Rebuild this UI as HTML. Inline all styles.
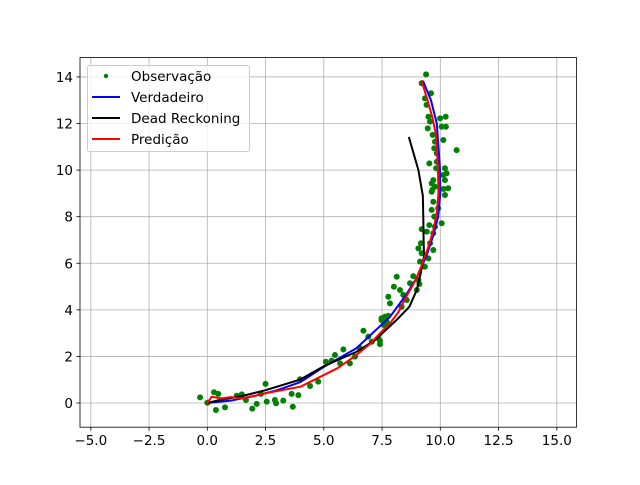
<!DOCTYPE html>
<html><head><meta charset="utf-8"><style>
body{margin:0;background:#fff}
svg{font-family:"DejaVu Sans","Liberation Sans",sans-serif}
</style></head><body>
<svg id="chart" width="640" height="480"></svg>
<script>
const xTicks=[-5,-2.5,0,2.5,5,7.5,10,12.5,15];
const xTickLabels=["−5.0","−2.5","0.0","2.5","5.0","7.5","10.0","12.5","15.0"];
const yTicks=[0,2,4,6,8,10,12,14];
const yTickLabels=["0","2","4","6","8","10","12","14"];
const obsX=[-0.31,0,0.29,0.47,0.37,0.76,1.26,1.48,1.66,1.93,2.12,2.3,2.5,2.55,2.9,2.95,3.26,3.62,3.67,3.91,
3.98,4.41,4.76,5.09,5.34,5.48,5.84,5.7,6.12,6.34,6.7,6.91,6.55,7.06,7.34,7.48,7.58,7.7,7.77,7.41,7.41,
7.48,7.63,7.84,7.77,8.34,8.56,8.41,8.99,8.27,8.01,9.1,8.7,9.06,8.13,8.84,9.34,9.13,9.49,9.2,9.7,9.06,9.56,9.17,9.7,9.42,9.2,9.77,9.53,10.06,9.74,9.63,9.91,9.7,10.2,9.63,
9.66,10.14,10.34,9.77,9.63,10.2,9.7,10.13,10.27,10.2,9.82,9.85,9.53,9.85,9.74,10.7,9.77,10.13,9.67,10.06,9.46,9.56,10.24,10.23,9.99,9.49,9.41,9.34,9.6,9.2,9.39];
const obsY=[0.24,0.01,0.46,0.39,-0.3,-0.19,0.31,0.37,0.13,-0.24,-0.04,0.39,0.82,0.06,0.13,-0.01,0.1,0.39,-0.16,0.34,
1.02,0.73,0.92,1.77,1.82,2.06,2.3,1.7,1.7,1.99,3.1,2.85,2.35,2.63,2.78,3.56,3.35,3.49,3.74,2.53,2.67,
3.64,3.71,4.28,4.56,4.13,4.42,4.64,4.85,4.85,4.99,5.11,5.14,5.28,5.42,5.45,5.85,6.07,6.21,6.43,6.57,6.64,6.86,6.86,7.29,7.36,7.46,7.57,7.64,7.72,8.0,8.29,8.36,8.64,8.93,9.07,
9.15,9.19,9.22,9.29,9.43,9.57,9.57,9.79,9.86,10.08,10.08,10.36,10.29,10.72,10.94,10.86,11.22,11.29,11.51,11.86,11.79,12.08,11.86,12.29,12.22,12.29,12.8,13.08,13.3,13.73,14.11];
const trueX=[0,1,2,3,4,5,6.4,7.84,8.5,9.0,9.4,9.7,9.91,10,9.99,9.92,9.85,9.6,9.27];
const trueY=[0,0.1,0.3,0.55,0.9,1.55,2.35,3.7,4.6,5.4,6.3,7.2,8.0,9,10,11,12,13,13.8];
const drX=[0,0.4,1.5,2.5,3.97,5,6.41,7.2,7.84,8.2,8.67,8.99,9.16,9.3,9.28,9.27,9.25,9.06,8.66];
const drY=[0,0.1,0.3,0.55,1.0,1.58,2.2,2.7,3.3,3.64,4.13,4.85,5.57,6.3,7.2,8,8.9,10,11.39];
const predX=[0,0.19,0.6,1.0,1.5,2.0,2.5,3.2,4,5,5.6,6.4,7.0,7.41,7.84,8.2,8.5,8.9,9.2,9.45,9.7,9.85,9.92,9.9,9.85,9.8,9.65,9.45,9.2];
const predY=[0,0.27,0.2,0.25,0.2,0.3,0.42,0.55,0.7,1.2,1.5,2.06,2.55,2.99,3.42,3.9,4.5,5.2,5.9,6.6,7.4,8.2,9,10,11,11.6,12.3,13,13.83];

const NS="http://www.w3.org/2000/svg";
const svg=document.getElementById('chart');
const L=80,R=576.5,T=57.6,B=427.2;
const X=v=>207.3+v*23.3;
const Y=v=>403-v*23.29;
function mk(tag,attrs,parent){const e=document.createElementNS(NS,tag);for(const k in attrs)e.setAttribute(k,attrs[k]);(parent||svg).appendChild(e);return e;}
xTicks.forEach((t,i)=>{
  const g=mk('line',{x1:X(t),x2:X(t),y1:T,y2:B,stroke:'#b0b0b0','stroke-width':0.8});
  
  
  mk('line',{x1:X(t),x2:X(t),y1:B,y2:B+3.5,stroke:'#000','stroke-width':0.8});
  const tx=mk('text',{x:X(t),y:B+18,'font-size':13.5,'text-anchor':'middle'});
  tx.textContent=xTickLabels[i];
  
  
});
yTicks.forEach((t,i)=>{
  const g=mk('line',{x1:L,x2:R,y1:Y(t),y2:Y(t),stroke:'#b0b0b0','stroke-width':0.8});
  
  
  mk('line',{x1:L-3.5,x2:L,y1:Y(t),y2:Y(t),stroke:'#000','stroke-width':0.8});
  const tx=mk('text',{x:L-7,y:Y(t)+5,'font-size':13.5,'text-anchor':'end'});
  tx.textContent=yTickLabels[i];
  
  
});
obsX.forEach((v,i)=>{
  const c=mk('circle',{cx:X(v),cy:Y(obsY[i]),r:3,fill:'green'});
  
  
});
function line(xs,ys,color,name){
  const p=mk('polyline',{points:xs.map((v,i)=>X(v)+','+Y(ys[i])).join(' '),fill:'none',stroke:color,'stroke-width':2,'stroke-linejoin':'round','stroke-linecap':'round'});
  
  
}
line(trueX,trueY,'#0000ff','true-path-line');
line(drX,drY,'#000000','dead-reckoning-line');
line(predX,predY,'#ff0000','prediction-line');
const fr=mk('rect',{x:L,y:T,width:R-L,height:B-T,fill:'none',stroke:'#000','stroke-width':0.8});


const lg=mk('g',{});


mk('rect',{x:87.5,y:65.5,width:162,height:86,rx:2,fill:'#fff','fill-opacity':0.8,stroke:'#ccc'},lg);
const entries=[['Observação','green','dot'],['Verdadeiro','#0000ff','line'],['Dead Reckoning','#000','line'],['Predição','#ff0000','line']];
entries.forEach((e,i)=>{
  const y=76+i*21;
  const g=mk('g',{},lg);
  
  
  if(e[2]==='dot')mk('circle',{cx:106,cy:y,r:2.2,fill:e[1]},g);
  else mk('line',{x1:92,x2:120,y1:y,y2:y,stroke:e[1],'stroke-width':2},g);
  const t=mk('text',{x:131,y:y+5,'font-size':13.5},g);
  t.textContent=e[0];
});
</script>
</body></html>
